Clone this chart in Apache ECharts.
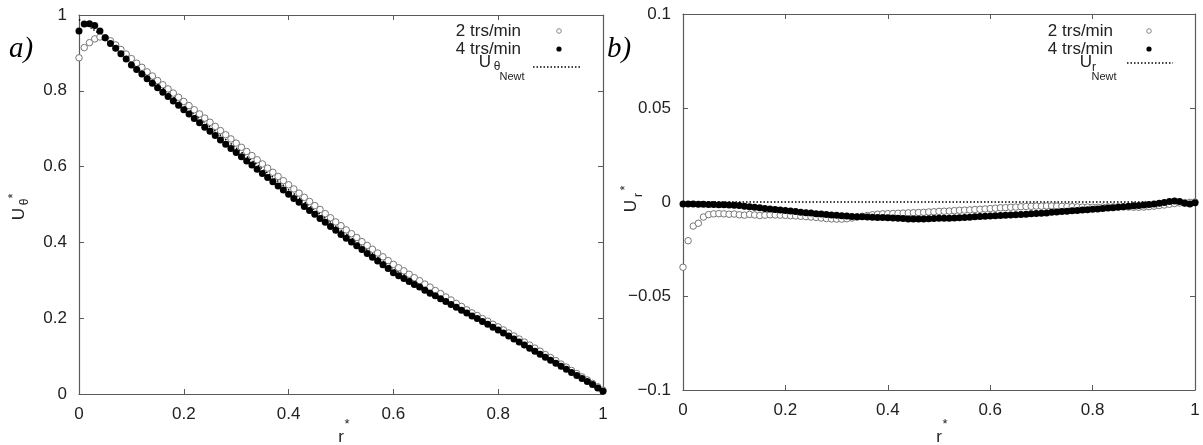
<!DOCTYPE html>
<html>
<head>
<meta charset="utf-8">
<script src="https://cdn.jsdelivr.net/npm/echarts@6/dist/echarts.min.js"></script>
<style>html,body{margin:0;padding:0;background:#fff}#c{width:1203px;height:445px}</style>
</head>
<body>
<div id="c"></div>
<script>
// r* positions (shared by all measured series)
const rPos = [0,0.01,0.02,0.03,0.04,0.05,0.06,0.07,0.08,0.09,0.1,0.11,0.12,0.13,0.14,0.15,0.16,0.17,0.18,0.19,0.2,0.21,0.22,0.23,0.24,0.25,0.26,0.27,0.28,0.29,0.3,0.31,0.32,0.33,0.34,0.35,0.36,0.37,0.38,0.39,0.4,0.41,0.42,0.43,0.44,0.45,0.46,0.47,0.48,0.49,0.5,0.51,0.52,0.53,0.54,0.55,0.56,0.57,0.58,0.59,0.6,0.61,0.62,0.63,0.64,0.65,0.66,0.67,0.68,0.69,0.7,0.71,0.72,0.73,0.74,0.75,0.76,0.77,0.78,0.79,0.8,0.81,0.82,0.83,0.84,0.85,0.86,0.87,0.88,0.89,0.9,0.91,0.92,0.93,0.94,0.95,0.96,0.97,0.98,0.99,1];

// panel a) U_theta*
const uTheta2 = [0.887,0.914,0.927,0.937,0.942,0.940,0.932,0.921,0.909,0.897,0.885,0.873,0.862,0.850,0.839,0.827,0.816,0.805,0.794,0.783,0.772,0.761,0.750,0.739,0.728,0.717,0.706,0.695,0.684,0.673,0.662,0.651,0.640,0.629,0.618,0.607,0.596,0.585,0.574,0.563,0.552,0.541,0.530,0.519,0.508,0.497,0.487,0.476,0.465,0.454,0.444,0.433,0.423,0.413,0.402,0.392,0.382,0.372,0.362,0.352,0.342,0.333,0.325,0.316,0.307,0.299,0.290,0.282,0.273,0.265,0.256,0.248,0.239,0.231,0.222,0.214,0.207,0.199,0.192,0.184,0.177,0.169,0.161,0.153,0.145,0.137,0.129,0.121,0.113,0.104,0.096,0.088,0.079,0.071,0.062,0.054,0.045,0.037,0.028,0.019,0.010];
const uTheta4 = [0.958,0.976,0.977,0.972,0.958,0.940,0.925,0.912,0.898,0.884,0.868,0.856,0.844,0.832,0.820,0.808,0.796,0.785,0.773,0.762,0.750,0.739,0.727,0.716,0.704,0.693,0.682,0.670,0.659,0.648,0.637,0.626,0.615,0.604,0.593,0.582,0.571,0.560,0.549,0.538,0.527,0.516,0.506,0.495,0.484,0.474,0.463,0.453,0.442,0.432,0.421,0.411,0.401,0.391,0.381,0.371,0.361,0.351,0.341,0.331,0.320,0.312,0.305,0.297,0.289,0.282,0.274,0.266,0.259,0.251,0.244,0.236,0.229,0.221,0.214,0.206,0.199,0.191,0.184,0.176,0.169,0.161,0.153,0.145,0.137,0.129,0.121,0.113,0.105,0.097,0.089,0.081,0.073,0.065,0.057,0.049,0.041,0.033,0.025,0.016,0.007];
const rNewt = [0,0.05,0.1,0.2,0.3,0.4,0.5,0.6,0.7,0.8,0.9,1];
const uThetaNewt = [0.988,0.94,0.876,0.761,0.649,0.539,0.432,0.331,0.25,0.173,0.092,0.004];

// panel b) U_r*
const uR2 = [-0.0347,-0.0206,-0.0128,-0.0113,-0.0080,-0.0067,-0.0063,-0.0062,-0.0063,-0.0065,-0.0064,-0.0068,-0.0070,-0.0066,-0.0069,-0.0072,-0.0070,-0.0068,-0.0069,-0.0070,-0.0071,-0.0073,-0.0074,-0.0076,-0.0078,-0.0080,-0.0082,-0.0085,-0.0088,-0.0090,-0.0091,-0.0091,-0.0089,-0.0085,-0.0080,-0.0076,-0.0072,-0.0068,-0.0065,-0.0063,-0.0062,-0.0061,-0.0060,-0.0059,-0.0058,-0.0057,-0.0056,-0.0055,-0.0053,-0.0052,-0.0050,-0.0049,-0.0048,-0.0046,-0.0044,-0.0043,-0.0042,-0.0040,-0.0039,-0.0037,-0.0035,-0.0033,-0.0031,-0.0030,-0.0028,-0.0027,-0.0025,-0.0024,-0.0023,-0.0022,-0.0022,-0.0021,-0.0021,-0.0022,-0.0023,-0.0024,-0.0025,-0.0026,-0.0027,-0.0027,-0.0028,-0.0028,-0.0027,-0.0026,-0.0026,-0.0025,-0.0026,-0.0027,-0.0028,-0.0028,-0.0027,-0.0025,-0.0022,-0.0019,-0.0016,-0.0012,-0.0008,-0.0005,-0.0003,-0.0002,0.0000];
const uR4 = [-0.0010,-0.0011,-0.0011,-0.0012,-0.0012,-0.0013,-0.0013,-0.0014,-0.0015,-0.0016,-0.0017,-0.0019,-0.0022,-0.0025,-0.0028,-0.0031,-0.0034,-0.0037,-0.0040,-0.0042,-0.0045,-0.0048,-0.0051,-0.0054,-0.0057,-0.0059,-0.0062,-0.0064,-0.0067,-0.0069,-0.0071,-0.0073,-0.0075,-0.0077,-0.0078,-0.0079,-0.0080,-0.0081,-0.0082,-0.0083,-0.0084,-0.0085,-0.0087,-0.0088,-0.0090,-0.0091,-0.0091,-0.0090,-0.0089,-0.0088,-0.0087,-0.0087,-0.0086,-0.0085,-0.0084,-0.0082,-0.0081,-0.0079,-0.0077,-0.0076,-0.0074,-0.0073,-0.0072,-0.0070,-0.0069,-0.0068,-0.0067,-0.0065,-0.0063,-0.0061,-0.0060,-0.0058,-0.0055,-0.0053,-0.0051,-0.0049,-0.0047,-0.0045,-0.0043,-0.0041,-0.0039,-0.0037,-0.0035,-0.0032,-0.0030,-0.0028,-0.0025,-0.0022,-0.0020,-0.0018,-0.0016,-0.0013,-0.0010,-0.0007,-0.0003,0.0002,0.0005,0.0003,-0.0006,-0.0010,-0.0004];
const rNewtR = [0,1];
const uRNewt = [0,0];

const legendLabels = ['2 trs/min','4 trs/min'];

function pairs(xs, ys){ return xs.map((x,i)=>[x, ys[i]]); }

const FONT = '"Liberation Sans", Arial, sans-serif';
const frame = '#5a5a5a';
const txt = '#222';

function axisPair(gridIndex, min, max, interval, isX){
  const base = {
    gridIndex, type:'value', min, max, interval,
    splitLine:{show:false},
    axisLine:{show:true, onZero:false, lineStyle:{color:frame, width:1.2}},
    axisTick:{show:true, inside:true, length:5, lineStyle:{color:frame}},
  };
  const main = Object.assign({}, base, {
    position: isX ? 'bottom' : 'left',
    axisLabel:{show:true, color:txt, fontSize:17, fontFamily:FONT, margin:12,
      formatter: v => String(+v.toFixed(4)).replace('-', '\u2212')}
  });
  const mirror = Object.assign({}, base, {
    position: isX ? 'top' : 'right',
    axisLabel:{show:false}
  });
  return [main, mirror];
}

const xa = axisPair(0,0,1,0.2,true), xb = axisPair(1,0,1,0.2,true);
const ya = axisPair(0,0,1,0.2,false), yb = axisPair(1,-0.1,0.1,0.05,false);

const openStyle = {color:'#fff', borderColor:'#777', borderWidth:1, opacity:1};
const fillStyle = {color:'#000', opacity:1};

const option = {
  animation:false,
  backgroundColor:'#fff',
  grid:[
    {left:79, top:15, width:524, height:379},
    {left:683, top:14, width:512, height:376}
  ],
  xAxis:[xa[0], xa[1], xb[0], xb[1]],
  yAxis:[ya[0], ya[1], yb[0], yb[1]],
  series:[
    {type:'line', xAxisIndex:0, yAxisIndex:0, data:pairs(rNewt,uThetaNewt), symbol:'none',
      lineStyle:{color:'#000', width:1.5, type:[1.5,2]}, z:1},
    {type:'scatter', name:legendLabels[0], xAxisIndex:0, yAxisIndex:0, data:pairs(rPos,uTheta2),
      symbol:'circle', symbolSize:6.5, itemStyle:openStyle, z:2},
    {type:'scatter', name:legendLabels[1], xAxisIndex:0, yAxisIndex:0, data:pairs(rPos,uTheta4),
      symbol:'circle', symbolSize:7, itemStyle:fillStyle, z:3},
    {type:'line', xAxisIndex:2, yAxisIndex:2, data:pairs(rNewtR,uRNewt), symbol:'none',
      lineStyle:{color:'#000', width:1.5, type:[1.5,2]}, z:1},
    {type:'scatter', name:legendLabels[0], xAxisIndex:2, yAxisIndex:2, data:pairs(rPos,uR2),
      symbol:'circle', symbolSize:6.5, itemStyle:openStyle, z:2},
    {type:'scatter', name:legendLabels[1], xAxisIndex:2, yAxisIndex:2, data:pairs(rPos,uR4),
      symbol:'circle', symbolSize:7, itemStyle:fillStyle, z:3}
  ],
  graphic: []
};

function t(x,y,text,size,opts){
  return {type:'text', x, y, style:Object.assign({text, fill:txt,
    font: size+'px '+FONT, align:'center', verticalAlign:'middle'}, opts||{})};
}
function legendBlock(xr, xm, lineX0, lineX1, lineY, sub, uX, subX, subY, newtX){
  return [
    t(xr,31,legendLabels[0],17,{align:'right'}),
    t(xr,49,legendLabels[1],17,{align:'right'}),
    {type:'circle', shape:{cx:xm, cy:31, r:2.3}, style:{fill:'#fff', stroke:'#888', lineWidth:1}},
    {type:'circle', shape:{cx:xm, cy:49, r:2.6}, style:{fill:'#000'}},
    {type:'line', shape:{x1:lineX0, y1:lineY, x2:lineX1, y2:lineY}, style:{stroke:'#000', lineWidth:1.5, lineDash:[1.5,2]}},
    t(uX,62,'U',17),
    t(subX,subY,sub,12),
    t(newtX,77,'Newt',11)
  ];
}
function yLabel(cx, cy, sub, subDx, subDy){
  return {type:'group', x:cx, y:cy, rotation:Math.PI/2, children:[
    t(0,0,'U',17),
    t(subDx,subDy,sub,12),
    t(18,-6,'*',13)
  ]};
}
function xLabel(cx){
  return {type:'group', x:cx, y:437, children:[
    t(0,0,'r',17),
    t(6,-13,'*',13)
  ]};
}

const serifIt = 'italic 29px "Liberation Serif", "Times New Roman", serif';
option.graphic = [].concat(
  [t(9,49,'a)',29,{align:'left', font:serifIt, fill:'#000'})],
  [t(607,49,'b)',29,{align:'left', font:serifIt, fill:'#000'})],
  legendBlock(521, 559, 533, 581, 67, '\u03b8', 485, 497, 67, 512),
  legendBlock(1113, 1149, 1127, 1173, 63, 'r', 1086, 1094, 68, 1104),
  [yLabel(19, 214, '\u03b8', 12, 6), yLabel(631, 206, 'r', 11, 8)],
  [xLabel(341), xLabel(939)]
);

const chart = echarts.init(document.getElementById('c'), null, {renderer:'canvas'});
chart.setOption(option);
</script>
</body>
</html>
